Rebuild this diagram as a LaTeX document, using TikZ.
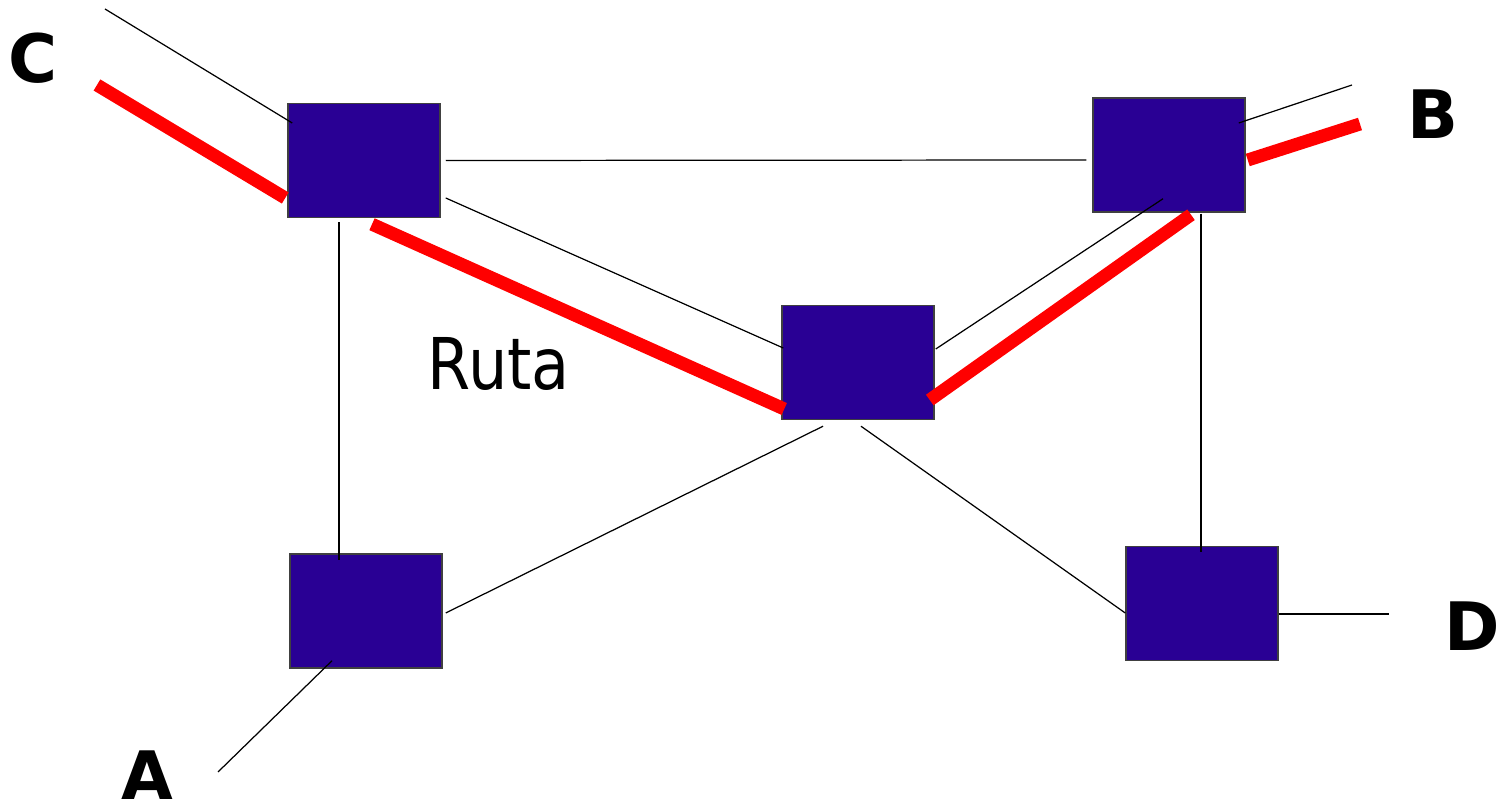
\documentclass[tikz,border=0pt]{standalone}
\usepackage{fontspec}
\setmainfont{DejaVu Sans}
\usetikzlibrary{calc}
\definecolor{boxblue}{RGB}{41,0,148}
\definecolor{routered}{RGB}{255,0,0}
\tikzset{
  router/.style={rectangle, fill=boxblue, draw=black!75, line width=0.4pt, minimum width=1.52cm, minimum height=1.14cm, inner sep=0pt},
  link/.style={draw=black, line width=0.35pt},
  route/.style={draw=routered, line width=0.13cm},
  endlabel/.style={font=\fontsize{19}{19}\selectfont\bfseries, inner sep=0pt},
  routelabel/.style={font=\fontsize{20.3}{20.3}\selectfont, inner sep=0pt}
}
\begin{document}
\begin{tikzpicture}[x=0.01cm, y=-0.01cm]
\useasboundingbox (0,0) rectangle (1505,807);
% routers
\node[router] (tl) at (364,160.5) {};
\node[router] (tr) at (1169,155) {};
\node[router] (ct) at (858,362.5) {};
\node[router] (bl) at (366,611) {};
\node[router] (br) at (1202,603.5) {};
% free ends
\coordinate (cend) at (105,9);
\coordinate (credend) at (97,85);
\coordinate (bend) at (1352,85);
\coordinate (bredend) at (1360,124);
\coordinate (dend) at (1389,614);
\coordinate (aend) at (218,772);
% thin links
\draw[link] (cend) -- ($(tl.west)+(5,-37.5)$);
\draw[link] ($(tl.east)+(5,0)$) -- ($(tr.west)+(-6,5)$);
\draw[link] ($(tl.east)+(5,37.5)$) -- ($(ct.west)+(2,-14.5)$);
\draw[link] ($(tl.south)+(-25,4)$) -- ($(bl.north)+(-27,7)$);
\draw[link] ($(ct.east)+(1,-13.5)$) -- ($(tr.south)+(-6,-14)$);
\draw[link] ($(tr.south)+(32,1)$) -- ($(br.north)+(-1,6)$);
\draw[link] ($(ct.south)+(-35,6)$) -- ($(bl.east)+(3,2)$);
\draw[link] ($(ct.south)+(3,6)$) -- ($(br.west)+(0,9.5)$);
\draw[link] ($(br.east)+(0,10.5)$) -- (dend);
\draw[link] ($(tr.east)+(-7,-32)$) -- (bend);
\draw[link] ($(bl.south)+(-34,-8)$) -- (aend);
% route
\draw[route] (credend) -- ($(tl.west)+(-2,37.5)$);
\draw[route] ($(tl.south)+(8,6)$) -- ($(ct.west)+(3,46.5)$);
\draw[route] ($(ct.east)+(-5,37.5)$) -- ($(tr.south)+(22,2)$);
\draw[route] ($(tr.east)+(2,5)$) -- (bredend);
% labels
\node[endlabel] (lc) at (33,58) {C};
\node[endlabel] (lb) at (1433,114) {B};
\node[endlabel] (ld) at (1472,626) {D};
\node[endlabel, anchor=base] (la) at (147,800) {A};
\node[routelabel, anchor=base west] (lr) at (427,390) {\scalebox{0.87}[1]{Ruta}};
\end{tikzpicture}
\end{document}
